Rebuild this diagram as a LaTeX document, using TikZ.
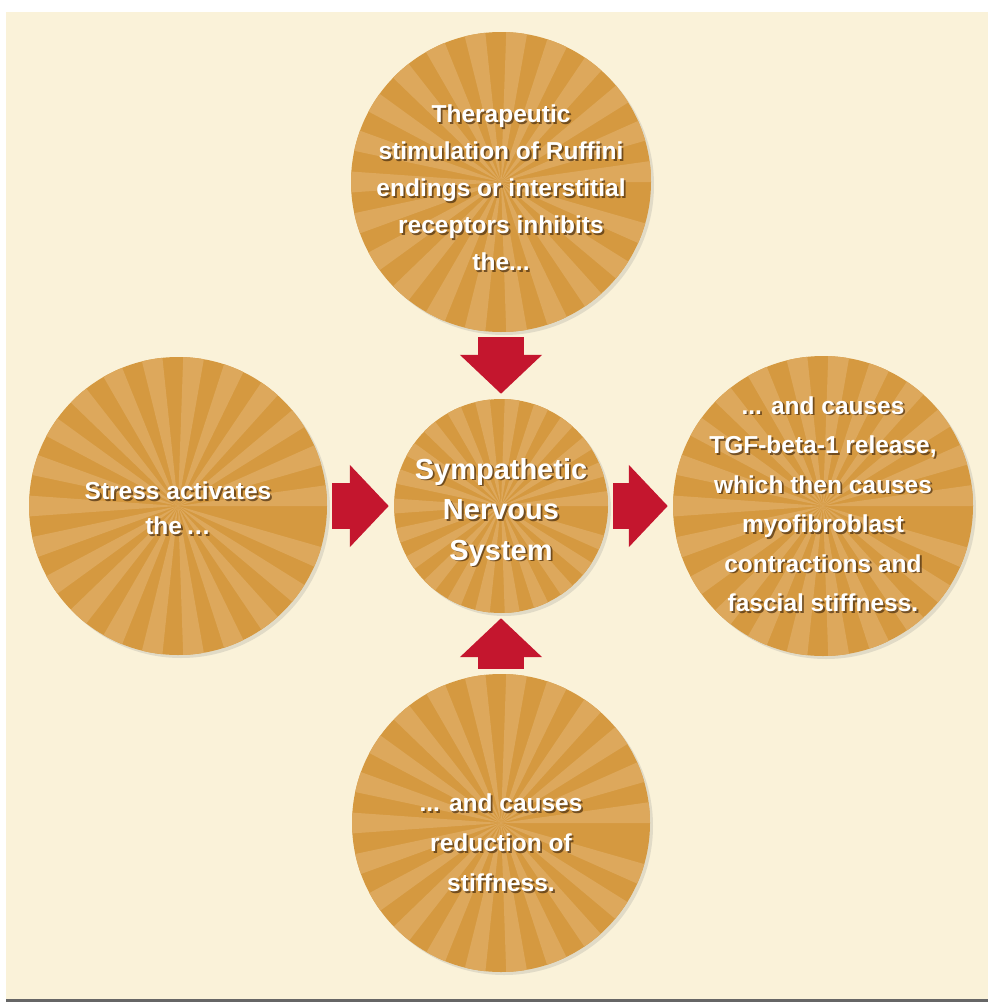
\documentclass[tikz,border=0pt]{standalone}
\usepackage{fontspec}
\setmainfont{Liberation Sans}
\usetikzlibrary{arrows.meta, shadows, positioning}

\definecolor{paper}{RGB}{250,242,217}
\definecolor{discfill}{RGB}{213,153,64}
\definecolor{rayfill}{RGB}{221,168,92}
\definecolor{arrowred}{RGB}{196,22,46}
\definecolor{txtshadow}{RGB}{60,35,10}

\tikzset{
  disc/.style={circle, fill=discfill, inner sep=0pt, minimum size=#1,
               drop shadow={opacity=0.2, shadow xshift=3pt, shadow yshift=-3pt},
               path picture={
                 \foreach \a in {0,16,...,344}
                   \fill[rayfill] (path picture bounding box.center)
                     -- +(\a:220pt) -- +(\a+8:220pt) -- cycle;
               }},
  said/.style={text=white, align=center,
               font=\bfseries\fontsize{24.5}{#1}\selectfont},
  said/.default=38,
  hub/.style={said, font=\bfseries\fontsize{29}{40.5}\selectfont},
  push/.style={arrowred, line width=46pt,
               -{Triangle[length=39pt, width=80pt]},
               shorten <=5pt, shorten >=5pt},
}

% white text with a dark drop behind it
\newcommand{\saidtext}[4][said]{%
  \node[#1, text=txtshadow, opacity=0.65, xshift=1.8pt, yshift=-1.8pt] (#2-sh) at (#3) {#4};
  \node[#1] (#2) at (#3) {#4};}

\begin{document}
\begin{tikzpicture}[x=1pt, y=-1pt]
  \useasboundingbox (0,0) rectangle (988,1002);
  \fill[white] (0,0) rectangle (988,1002);
  \fill[paper] (6,12) rectangle (988,999);
  \fill[black!60] (6,999) rectangle (988,1002);

  % discs
  \node[disc=214pt] (sns)    at (501,506) {};
  \node[disc=300pt] (top)    at (501,182) {};
  \node[disc=298pt] (stress) at (178,506) {};
  \node[disc=300pt] (effect) at (823,506) {};
  \node[disc=298pt] (relief) at (501,823) {};

  % block arrows
  \draw[push] (top)    -- (sns);
  \draw[push] (stress) -- (sns);
  \draw[push] (sns)    -- (effect);
  \draw[push] (relief) -- (sns);

  % texts
  \saidtext[hub]{sns-txt}{[yshift=-6pt]sns}{Sympathetic\\Nervous\\System}
  \saidtext[said=37]{top-txt}{[yshift=-6pt]top}{Therapeutic\\stimulation of Ruffini\\endings or interstitial\\receptors inhibits\\the...}
  \saidtext[said=35]{stress-txt}{[yshift=-2pt]stress}{Stress activates\\the\,…}
  \saidtext[said=39.5]{effect-txt}{[yshift=2pt]effect}{... and causes\\TGF-beta-1 release,\\which then causes\\myofibroblast\\contractions and\\fascial stiffness.}
  \saidtext[said=40]{relief-txt}{[yshift=-20pt]relief}{... and causes\\reduction of\\stiffness.}
\end{tikzpicture}
\end{document}
